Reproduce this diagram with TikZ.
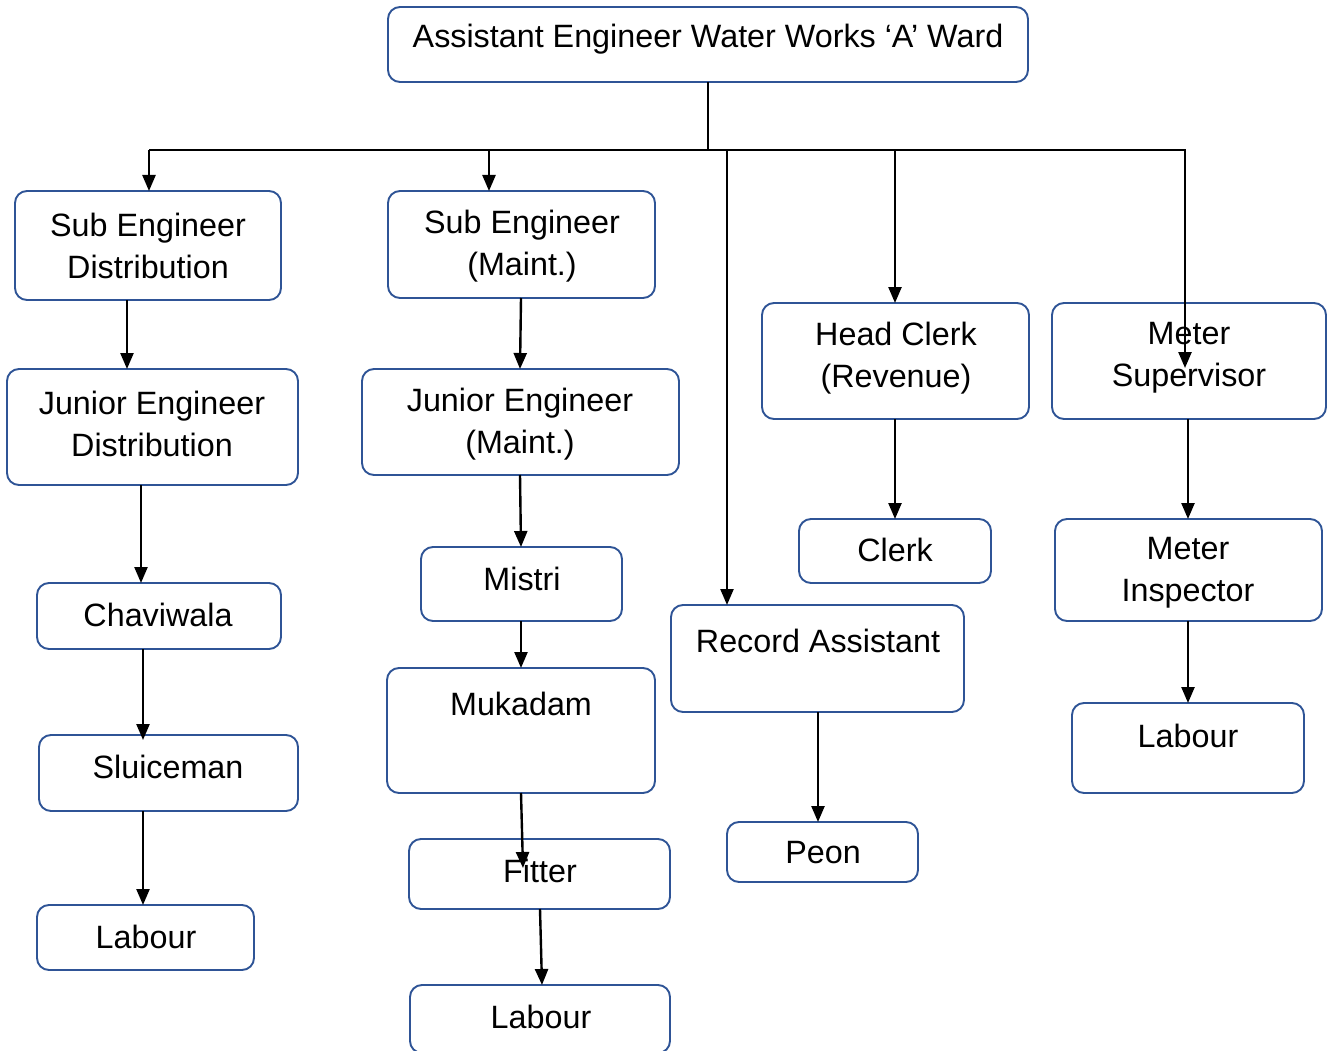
\documentclass[tikz,border=0pt]{standalone}
\usepackage{fontspec}
\setmainfont{Liberation Sans}
\usetikzlibrary{arrows.meta}
\definecolor{boxblue}{RGB}{47,84,150}
\begin{document}
\begin{tikzpicture}[x=1pt,y=-1pt,
  box/.style={draw=boxblue, line width=1.9pt, rounded corners=12pt, inner sep=0pt, outer sep=0pt},
  lbl/.style={font=\fontsize{32.3}{42}\selectfont, align=center, inner sep=0pt},
  conn/.style={line width=2.4pt, -{Triangle[length=16pt,width=13pt]}},
  plain/.style={line width=2pt}]
\useasboundingbox (0,0) rectangle (1328,1051);
% boxes
\node[box, minimum width=640pt, minimum height=75pt] (top) at (708,44.5) {};
\node[box, minimum width=266pt, minimum height=109pt] (se1) at (148,245.5) {};
\node[box, minimum width=267pt, minimum height=107pt] (se2) at (521.5,244.5) {};
\node[box, minimum width=291pt, minimum height=116pt] (je1) at (152.5,427) {};
\node[box, minimum width=317pt, minimum height=106pt] (je2) at (520.5,422) {};
\node[box, minimum width=244pt, minimum height=66pt] (chav) at (159,616) {};
\node[box, minimum width=201pt, minimum height=74pt] (mistri) at (521.5,584) {};
\node[box, minimum width=268pt, minimum height=125pt] (muk) at (521,730.5) {};
\node[box, minimum width=261pt, minimum height=70pt] (fit) at (539.5,874) {};
\node[box, minimum width=260pt, minimum height=68pt] (lab2) at (540,1019) {};
\node[box, minimum width=259pt, minimum height=76pt] (sluice) at (168.5,773) {};
\node[box, minimum width=217pt, minimum height=65pt] (lab1) at (145.5,937.5) {};
\node[box, minimum width=267pt, minimum height=116pt] (hc) at (895.5,361) {};
\node[box, minimum width=192pt, minimum height=64pt] (clerk) at (895,551) {};
\node[box, minimum width=293pt, minimum height=107pt] (ra) at (817.5,658.5) {};
\node[box, minimum width=191pt, minimum height=60pt] (peon) at (822.5,852) {};
\node[box, minimum width=274pt, minimum height=116pt] (ms) at (1189,361) {};
\node[box, minimum width=267pt, minimum height=102pt] (mi) at (1188.5,570) {};
\node[box, minimum width=232pt, minimum height=90pt] (lab3) at (1188,748) {};
% labels
\node[lbl] (top-t) at (708,39) {Assistant Engineer Water Works ‘A’ Ward};
\node[lbl] (se1-t) at (148,246) {Sub Engineer\\Distribution};
\node[lbl] (se2-t) at (522,246) {Sub Engineer\\(Maint.)};
\node[lbl] (je1-t) at (152,424) {Junior Engineer\\Distribution};
\node[lbl] (je2-t) at (520,424) {Junior Engineer\\(Maint.)};
\node[lbl] (chav-t) at (158,615) {Chaviwala};
\node[lbl] (mistri-t) at (522,579) {Mistri};
\node[lbl] (muk-t) at (521,704) {Mukadam};
\node[lbl] (fit-t) at (540,871) {Fitter};
\node[lbl] (lab2-t) at (541,1017) {Labour};
\node[lbl] (sluice-t) at (168,767) {Sluiceman};
\node[lbl] (lab1-t) at (146,937) {Labour};
\node[lbl] (hc-t) at (896,358) {Head Clerk\\(Revenue)};
\node[lbl] (clerk-t) at (895,550) {Clerk};
\node[lbl] (ra-t) at (818,641) {Record Assistant};
\node[lbl] (peon-t) at (823,853) {Peon};
\node[lbl] (ms-t) at (1189,358) {Meter\\Supervisor};
\node[lbl] (mi-t) at (1188,573) {Meter\\Inspector};
\node[lbl] (lab3-t) at (1188,736) {Labour};
% bus
\coordinate (jn) at (708,150);
\coordinate (bl) at (149,150);
\coordinate (br) at (1186,150);
\coordinate (b2) at (489,150);
\coordinate (b3) at (727,150);
\coordinate (b4) at (895,150);
\coordinate (b5) at (1185,150);
\draw[plain] (top.south) -- (jn);
\draw[line width=2.4pt] (bl) -- (br);
\draw[conn] (bl) -- (bl |- se1.north);
\draw[conn] (b2) -- (b2 |- se2.north);
\draw[conn] (b3) -- (b3 |- ra.north);
\draw[conn] (b4) -- (b4 |- hc.north);
\draw[conn] (b5) -- ([yshift=-65pt]b5 |- ms.north);
% column 1
\draw[conn] (se1.south -| 127,0) -- (je1.north -| 127,0);
\draw[conn] (je1.south -| 141,0) -- (chav.north -| 141,0);
\draw[conn] (chav.south -| 143,0) -- ([yshift=-5pt]sluice.north -| 143,0);
\draw[conn] (sluice.south -| 143,0) -- (lab1.north -| 143,0);
% column 2
\draw[conn] (se2.south -| 521,0) -- (je2.north -| 520,0);
\draw[conn] (je2.south -| 520,0) -- (mistri.north -| 521,0);
\draw[conn] (mistri.south -| 521,0) -- (muk.north -| 521,0);
\draw[conn] (muk.south -| 521,0) -- ([yshift=-29pt]fit.north -| 523,0);
\draw[conn] (fit.south -| 540,0) -- (lab2.north -| 542,0);
% column 3/4
\draw[conn] (ra.south -| 818,0) -- (peon.north -| 818,0);
\draw[conn] (hc.south -| 895,0) -- (clerk.north -| 895,0);
% column 5
\draw[conn] (ms.south -| 1188,0) -- (mi.north -| 1188,0);
\draw[conn] (mi.south -| 1188,0) -- (lab3.north -| 1188,0);
\end{tikzpicture}
\end{document}
